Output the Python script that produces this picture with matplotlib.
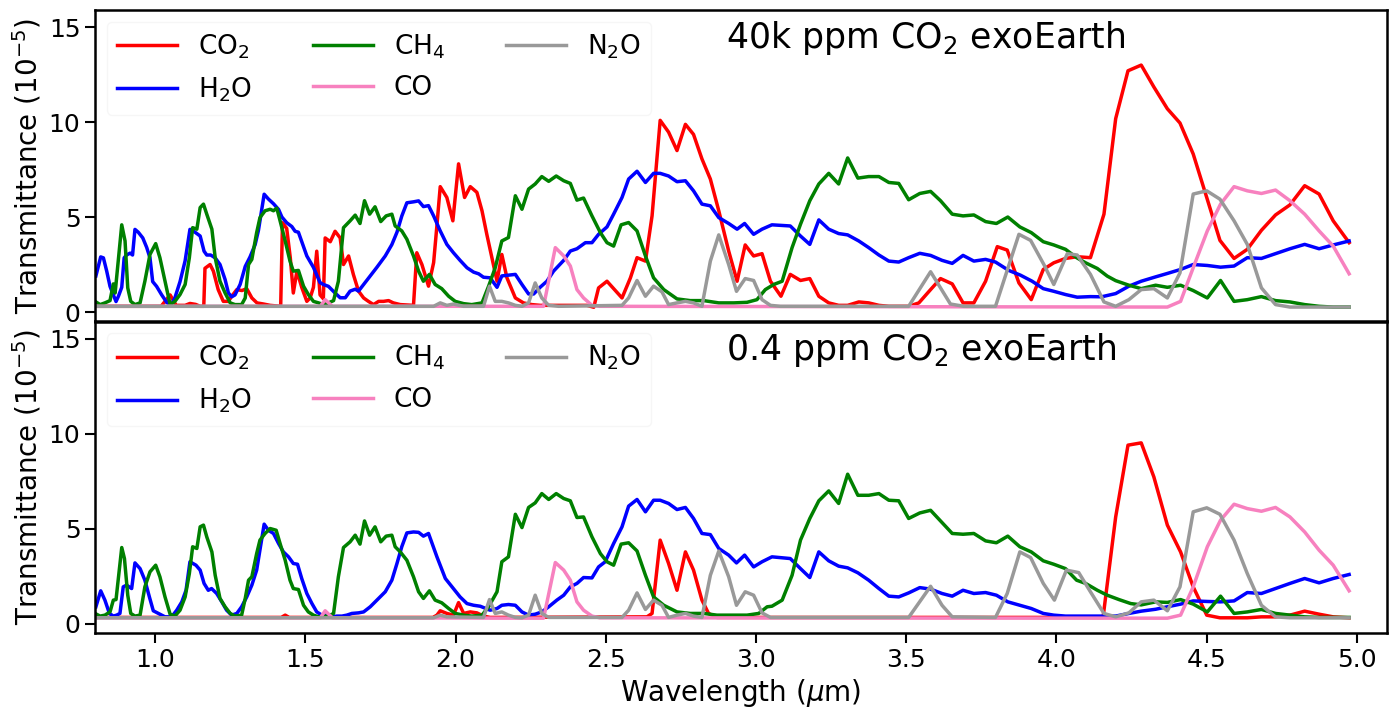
import matplotlib
matplotlib.use("Agg")
import matplotlib.pyplot as plt

# ---------------- data: top panel (40k ppm CO2) ----------------
top_co2_wl = [0.800, 1.020, 1.050, 1.070, 1.100, 1.116, 1.135, 1.150, 1.162, 1.166, 1.183, 1.194, 1.210, 1.227, 1.244,
              1.255, 1.272, 1.289, 1.305, 1.322, 1.339, 1.361, 1.383, 1.418, 1.424, 1.438, 1.450, 1.460, 1.472, 1.488,
              1.505, 1.516, 1.527, 1.538, 1.549, 1.560, 1.566, 1.583, 1.599, 1.616, 1.627, 1.644, 1.660, 1.677, 1.694,
              1.710, 1.727, 1.744, 1.760, 1.777, 1.793, 1.816, 1.860, 1.871, 1.888, 1.910, 1.927, 1.936, 1.949, 1.971,
              1.991, 2.010, 2.030, 2.049, 2.071, 2.088, 2.104, 2.121, 2.138, 2.154, 2.171, 2.199, 2.226, 2.254, 2.282,
              2.437, 2.460, 2.476, 2.504, 2.532, 2.554, 2.582, 2.604, 2.632, 2.654, 2.681, 2.709, 2.737, 2.765, 2.792,
              2.820, 2.848, 2.876, 2.909, 2.937, 2.964, 2.992, 3.020, 3.048, 3.083, 3.114, 3.148, 3.179, 3.209, 3.242,
              3.275, 3.305, 3.342, 3.375, 3.409, 3.442, 3.508, 3.542, 3.581, 3.614, 3.653, 3.689, 3.725, 3.764, 3.803,
              3.836, 3.875, 3.916, 3.956, 3.991, 4.030, 4.069, 4.113, 4.158, 4.197, 4.238, 4.282, 4.324, 4.369, 4.411,
              4.455, 4.500, 4.544, 4.591, 4.635, 4.682, 4.729, 4.777, 4.826, 4.874, 4.921, 4.974]
top_co2_val = [0.30, 0.30, 0.90, 0.35, 0.35, 0.45, 0.40, 0.30, 0.30, 2.30, 2.50, 2.15, 1.18, 0.56, 0.56,
               0.83, 1.18, 1.13, 1.23, 0.74, 0.48, 0.42, 0.35, 0.30, 4.70, 4.40, 2.85, 1.00, 2.15, 1.30,
               0.56, 0.74, 1.30, 3.20, 0.90, 0.70, 3.90, 3.70, 4.25, 3.90, 2.50, 2.95, 1.97, 1.10, 0.74,
               0.56, 0.39, 0.56, 0.56, 0.60, 0.48, 0.39, 0.35, 3.12, 2.50, 1.36, 2.60, 4.20, 6.60, 6.03,
               4.80, 7.80, 6.03, 6.60, 6.30, 5.33, 4.09, 2.86, 1.62, 3.03, 1.80, 0.74, 0.48, 0.39, 0.35,
               0.35, 0.25, 1.27, 1.62, 1.13, 0.74, 1.80, 2.86, 2.68, 5.06, 10.09, 9.47, 8.50, 9.88, 9.35,
               8.06, 7.00, 5.33, 3.21, 1.62, 3.53, 2.95, 3.07, 1.62, 0.83, 1.98, 1.66, 1.76, 0.83, 0.48,
               0.35, 0.35, 0.53, 0.48, 0.35, 0.30, 0.30, 0.48, 1.18, 1.76, 1.48, 0.48, 0.48, 1.62, 3.44,
               3.26, 1.53, 0.65, 2.24, 2.59, 2.82, 2.91, 2.86, 5.15, 10.18, 12.70, 13.00, 11.85, 10.70, 9.95,
               8.32, 6.03, 3.77, 2.82, 3.30, 4.30, 5.11, 5.64, 6.65, 6.21, 4.80, 3.65]

top_h2o_wl = [0.803, 0.819, 0.828, 0.839, 0.850, 0.861, 0.870, 0.878, 0.889, 0.897, 0.905, 0.917, 0.925, 0.933, 0.944,
              0.959, 0.972, 0.983, 0.992, 1.005, 1.022, 1.039, 1.053, 1.066, 1.083, 1.100, 1.116, 1.133, 1.150, 1.163,
              1.172, 1.185, 1.200, 1.216, 1.233, 1.244, 1.255, 1.266, 1.283, 1.300, 1.316, 1.333, 1.344, 1.363, 1.377,
              1.394, 1.411, 1.422, 1.438, 1.455, 1.466, 1.477, 1.505, 1.527, 1.549, 1.560, 1.577, 1.599, 1.616, 1.633,
              1.649, 1.666, 1.677, 1.694, 1.716, 1.738, 1.766, 1.788, 1.805, 1.821, 1.838, 1.860, 1.877, 1.893, 1.910,
              1.927, 1.949, 1.971, 1.993, 2.015, 2.038, 2.060, 2.077, 2.093, 2.115, 2.138, 2.154, 2.177, 2.199, 2.221,
              2.243, 2.260, 2.282, 2.304, 2.326, 2.360, 2.382, 2.404, 2.432, 2.454, 2.476, 2.504, 2.526, 2.554, 2.576,
              2.604, 2.632, 2.659, 2.681, 2.709, 2.737, 2.765, 2.792, 2.820, 2.848, 2.876, 2.909, 2.937, 2.962, 2.992,
              3.020, 3.053, 3.114, 3.148, 3.179, 3.209, 3.242, 3.275, 3.305, 3.342, 3.375, 3.409, 3.442, 3.475, 3.508,
              3.545, 3.581, 3.619, 3.653, 3.689, 3.725, 3.764, 3.797, 3.841, 3.880, 3.919, 3.956, 3.991, 4.030, 4.069,
              4.113, 4.150, 4.197, 4.241, 4.282, 4.330, 4.369, 4.413, 4.455, 4.502, 4.546, 4.591, 4.635, 4.682, 4.729,
              4.777, 4.826, 4.874, 4.921, 4.974]
top_h2o_val = [1.90, 2.90, 2.85, 2.15, 1.35, 0.90, 0.55, 0.83, 1.30, 2.85, 3.00, 3.10, 3.00, 4.35, 4.20,
               3.90, 3.40, 2.85, 1.60, 1.35, 0.90, 0.50, 0.35, 0.75, 1.60, 2.70, 4.35, 4.20, 4.00, 3.20,
               3.00, 3.00, 2.85, 2.50, 1.71, 1.00, 0.80, 0.90, 1.45, 2.40, 2.90, 3.55, 4.30, 6.20, 5.95,
               5.70, 5.40, 5.00, 4.70, 4.50, 4.25, 4.20, 2.95, 2.35, 1.55, 1.45, 1.35, 1.00, 0.75, 0.75,
               1.10, 1.20, 1.10, 1.45, 1.90, 2.35, 2.95, 3.55, 4.20, 5.05, 5.75, 5.80, 5.85, 5.55, 5.60,
               5.06, 4.27, 3.56, 3.12, 2.72, 2.33, 2.10, 2.01, 1.83, 1.80, 1.30, 1.90, 1.94, 1.98, 1.45,
               0.95, 0.95, 1.31, 1.62, 2.15, 2.72, 3.21, 3.33, 3.65, 3.65, 4.09, 4.48, 5.15, 6.03, 7.00,
               7.41, 6.82, 7.30, 7.30, 7.16, 6.86, 6.91, 6.38, 5.68, 5.59, 4.97, 4.66, 4.36, 4.66, 4.09,
               4.36, 4.59, 4.53, 4.00, 3.56, 4.85, 4.36, 4.13, 4.06, 3.74, 3.39, 3.00, 2.68, 2.63, 2.86,
               3.09, 2.98, 2.72, 2.56, 2.98, 2.68, 2.77, 2.63, 2.19, 1.94, 1.62, 1.23, 1.09, 0.92, 0.78,
               0.81, 0.80, 0.97, 1.36, 1.62, 1.85, 2.03, 2.24, 2.50, 2.45, 2.36, 2.42, 2.86, 2.82, 3.07,
               3.33, 3.56, 3.33, 3.53, 3.74]

top_ch4_wl = [0.800, 0.817, 0.833, 0.850, 0.861, 0.867, 0.874, 0.889, 0.900, 0.909, 0.919, 0.933, 0.950, 0.966, 0.983,
              1.002, 1.016, 1.033, 1.050, 1.066, 1.083, 1.100, 1.114, 1.125, 1.139, 1.150, 1.161, 1.172, 1.189, 1.200,
              1.216, 1.233, 1.250, 1.266, 1.288, 1.300, 1.311, 1.322, 1.338, 1.349, 1.366, 1.383, 1.394, 1.405, 1.416,
              1.433, 1.449, 1.460, 1.477, 1.494, 1.510, 1.527, 1.544, 1.560, 1.577, 1.594, 1.610, 1.627, 1.649, 1.666,
              1.682, 1.697, 1.714, 1.732, 1.751, 1.769, 1.788, 1.799, 1.821, 1.838, 1.860, 1.877, 1.893, 1.913, 1.932,
              1.954, 1.977, 1.999, 2.027, 2.054, 2.088, 2.110, 2.132, 2.154, 2.176, 2.199, 2.221, 2.243, 2.265, 2.287,
              2.310, 2.335, 2.360, 2.382, 2.404, 2.426, 2.454, 2.482, 2.504, 2.526, 2.551, 2.576, 2.604, 2.632, 2.659,
              2.693, 2.737, 2.781, 2.826, 2.876, 2.926, 2.970, 3.003, 3.031, 3.059, 3.087, 3.120, 3.148, 3.179, 3.209,
              3.242, 3.275, 3.305, 3.339, 3.375, 3.409, 3.442, 3.475, 3.508, 3.545, 3.581, 3.614, 3.653, 3.689, 3.725,
              3.764, 3.800, 3.838, 3.878, 3.916, 3.956, 3.991, 4.030, 4.067, 4.097, 4.136, 4.169, 4.197, 4.241, 4.282,
              4.330, 4.369, 4.413, 4.455, 4.502, 4.546, 4.591, 4.635, 4.682, 4.729, 4.777, 4.826, 4.874, 4.921, 4.974]
top_ch4_val = [0.56, 0.39, 0.48, 0.60, 1.48, 1.00, 2.15, 4.59, 3.74, 1.27, 0.56, 0.39, 0.48, 1.62, 3.03,
               3.60, 2.86, 1.62, 0.39, 0.56, 0.92, 1.45, 2.86, 4.44, 4.36, 5.50, 5.68, 5.15, 4.36, 2.86,
               1.62, 1.00, 0.48, 0.39, 0.39, 0.74, 2.50, 2.77, 4.18, 4.97, 5.33, 5.41, 5.33, 5.47, 4.80,
               3.74, 2.68, 2.15, 2.19, 1.36, 0.92, 0.56, 0.48, 0.39, 0.48, 0.60, 1.62, 4.44, 4.80, 5.10,
               4.66, 5.86, 5.15, 5.54, 4.76, 5.06, 5.15, 4.53, 4.27, 3.83, 2.95, 2.15, 1.62, 1.98, 1.45,
               1.23, 0.83, 0.56, 0.44, 0.39, 0.48, 1.36, 2.33, 3.74, 3.92, 6.12, 5.41, 6.47, 6.74, 7.13,
               6.88, 7.16, 6.91, 6.77, 5.89, 6.00, 5.06, 4.18, 3.65, 3.47, 4.59, 4.71, 4.27, 2.95, 1.80,
               1.18, 0.69, 0.60, 0.60, 0.48, 0.48, 0.51, 0.65, 1.18, 1.45, 1.62, 3.39, 4.62, 5.86, 6.74,
               7.30, 6.74, 8.11, 7.05, 7.13, 7.13, 6.82, 6.77, 5.91, 6.24, 6.35, 5.86, 5.15, 5.06, 5.11,
               4.76, 4.66, 5.00, 4.48, 4.18, 3.70, 3.53, 3.30, 2.86, 2.59, 2.29, 1.89, 1.65, 1.41, 1.23,
               1.41, 1.30, 1.41, 1.13, 0.74, 1.66, 0.56, 0.65, 0.81, 0.60, 0.53, 0.39, 0.30, 0.26, 0.26]

top_co_wl = [0.800, 1.550, 1.566, 1.590, 2.293, 2.332, 2.360, 2.382, 2.404, 2.426, 2.454, 2.480, 4.369, 4.413,
             4.455, 4.502, 4.546, 4.591, 4.635, 4.682, 4.729, 4.777, 4.826, 4.874, 4.921, 4.974]
top_co_val = [0.30, 0.30, 0.65, 0.30, 0.30, 3.39, 2.95, 2.42, 1.18, 0.74, 0.35, 0.30, 0.26, 0.56,
              2.33, 4.27, 5.68, 6.60, 6.38, 6.24, 6.42, 5.86, 5.15, 4.27, 3.47, 2.01]

top_n2o_wl = [0.800, 1.927, 1.949, 1.971, 1.993, 2.027, 2.093, 2.113, 2.132, 2.154, 2.176, 2.199, 2.221, 2.243, 2.265,
              2.287, 2.310, 2.343, 2.554, 2.576, 2.604, 2.632, 2.659, 2.687, 2.709, 2.737, 2.765, 2.792, 2.820, 2.848,
              2.876, 2.909, 2.935, 2.964, 2.992, 3.020, 3.048, 3.081, 3.508, 3.581, 3.647, 3.692, 3.797, 3.875, 3.914,
              3.958, 3.991, 4.036, 4.069, 4.113, 4.158, 4.197, 4.241, 4.282, 4.324, 4.369, 4.411, 4.455, 4.500, 4.544,
              4.591, 4.635, 4.682, 4.729, 4.777, 4.974]
top_n2o_val = [0.30, 0.30, 0.48, 0.35, 0.42, 0.30, 0.30, 1.36, 0.56, 0.56, 0.48, 0.35, 0.30, 0.48, 1.53,
               0.74, 0.35, 0.30, 0.35, 0.74, 1.66, 0.83, 1.36, 1.06, 0.39, 0.48, 0.56, 0.48, 0.30, 2.68,
               4.06, 2.50, 1.09, 1.76, 1.66, 0.65, 0.35, 0.30, 0.30, 2.12, 0.42, 0.30, 0.30, 4.09, 3.77,
               2.50, 1.45, 3.07, 3.00, 1.98, 0.53, 0.30, 0.65, 1.18, 1.23, 0.74, 2.06, 6.21, 6.38, 5.94,
               4.80, 3.56, 1.27, 0.39, 0.26, 0.26]

# ---------------- data: bottom panel (0.4 ppm CO2) ----------------
bot_co2_wl = [0.800, 1.420, 1.433, 1.446, 1.925, 1.938, 1.949, 1.971, 1.993, 2.010, 2.027, 2.049, 2.071, 2.093, 2.115,
              2.637, 2.654, 2.681, 2.709, 2.737, 2.765, 2.792, 2.820, 2.842, 2.870, 4.155, 4.197, 4.238, 4.282, 4.324,
              4.369, 4.413, 4.455, 4.500, 4.544, 4.635, 4.682, 4.729, 4.777, 4.826, 4.874, 4.921, 4.974]
bot_co2_val = [0.32, 0.32, 0.44, 0.32, 0.32, 0.44, 0.67, 0.53, 0.44, 1.10, 0.53, 0.61, 0.56, 0.39, 0.32,
               0.35, 0.53, 4.39, 3.16, 1.75, 3.77, 2.81, 1.23, 0.53, 0.32, 0.32, 5.61, 9.39, 9.51, 7.72,
               5.18, 3.77, 1.93, 0.44, 0.30, 0.30, 0.35, 0.35, 0.44, 0.65, 0.49, 0.35, 0.30]

bot_h2o_wl = [0.803, 0.819, 0.833, 0.848, 0.861, 0.872, 0.883, 0.894, 0.905, 0.922, 0.933, 0.950, 0.966, 0.981, 0.994,
              1.011, 1.033, 1.055, 1.072, 1.089, 1.103, 1.116, 1.136, 1.150, 1.163, 1.177, 1.188, 1.205, 1.222, 1.238,
              1.255, 1.272, 1.288, 1.305, 1.322, 1.338, 1.363, 1.377, 1.394, 1.411, 1.427, 1.444, 1.460, 1.474, 1.488,
              1.505, 1.522, 1.538, 1.555, 1.572, 1.588, 1.605, 1.622, 1.638, 1.655, 1.677, 1.694, 1.716, 1.738, 1.766,
              1.788, 1.805, 1.821, 1.838, 1.860, 1.877, 1.893, 1.910, 1.938, 1.966, 1.993, 2.015, 2.038, 2.060, 2.082,
              2.115, 2.138, 2.154, 2.176, 2.199, 2.221, 2.243, 2.265, 2.287, 2.310, 2.337, 2.360, 2.382, 2.404, 2.426,
              2.454, 2.476, 2.498, 2.526, 2.554, 2.576, 2.604, 2.632, 2.659, 2.681, 2.709, 2.737, 2.765, 2.792, 2.820,
              2.848, 2.876, 2.909, 2.935, 2.962, 2.992, 3.020, 3.053, 3.114, 3.148, 3.179, 3.209, 3.242, 3.275, 3.305,
              3.339, 3.375, 3.409, 3.442, 3.475, 3.508, 3.545, 3.581, 3.619, 3.653, 3.689, 3.725, 3.764, 3.800, 3.838,
              3.878, 3.916, 3.956, 3.991, 4.030, 4.069, 4.113, 4.158, 4.197, 4.241, 4.282, 4.330, 4.369, 4.413, 4.455,
              4.502, 4.546, 4.591, 4.635, 4.682, 4.729, 4.777, 4.826, 4.874, 4.921, 4.974]
bot_h2o_val = [0.88, 1.72, 1.23, 0.53, 0.39, 0.44, 0.53, 1.93, 2.02, 1.84, 3.19, 2.89, 2.28, 1.40, 0.67,
               0.53, 0.35, 0.35, 0.70, 1.14, 1.75, 3.25, 3.07, 2.81, 2.11, 1.75, 1.84, 1.58, 1.14, 0.70,
               0.44, 0.53, 0.88, 1.40, 2.02, 2.81, 5.23, 4.91, 4.74, 4.21, 3.77, 3.51, 3.16, 3.12, 2.37,
               1.58, 1.05, 0.61, 0.44, 0.44, 0.35, 0.39, 0.39, 0.44, 0.53, 0.56, 0.61, 0.88, 1.23, 1.67,
               2.28, 3.16, 4.04, 4.77, 4.82, 4.80, 4.60, 4.74, 3.51, 2.37, 1.84, 1.40, 1.05, 0.96, 0.91,
               0.70, 0.79, 0.96, 1.00, 0.96, 0.61, 0.44, 0.49, 0.61, 0.88, 1.23, 1.49, 1.93, 2.11, 2.42,
               2.40, 2.98, 3.25, 4.21, 5.09, 6.18, 6.53, 5.88, 6.49, 6.49, 6.32, 6.00, 6.11, 5.53, 4.74,
               4.68, 3.95, 3.60, 3.19, 3.60, 2.98, 3.25, 3.51, 3.42, 2.89, 2.42, 3.77, 3.30, 3.02, 2.93,
               2.67, 2.28, 1.84, 1.44, 1.40, 1.61, 1.89, 1.81, 1.58, 1.44, 1.75, 1.58, 1.63, 1.49, 1.14,
               0.96, 0.79, 0.53, 0.44, 0.39, 0.39, 0.39, 0.39, 0.39, 0.53, 0.65, 0.75, 0.88, 1.02, 1.19,
               1.16, 1.14, 1.19, 1.63, 1.58, 1.84, 2.11, 2.37, 2.14, 2.37, 2.58]

bot_ch4_wl = [0.800, 0.817, 0.833, 0.850, 0.861, 0.870, 0.889, 0.898, 0.909, 0.919, 0.933, 0.950, 0.966, 0.983, 1.002,
              1.016, 1.033, 1.050, 1.066, 1.083, 1.100, 1.114, 1.125, 1.139, 1.150, 1.161, 1.172, 1.189, 1.200, 1.216,
              1.233, 1.250, 1.266, 1.288, 1.300, 1.311, 1.322, 1.338, 1.349, 1.366, 1.383, 1.403, 1.416, 1.433, 1.449,
              1.460, 1.477, 1.494, 1.510, 1.527, 1.544, 1.560, 1.577, 1.594, 1.610, 1.627, 1.649, 1.666, 1.682, 1.697,
              1.714, 1.732, 1.751, 1.769, 1.788, 1.799, 1.816, 1.838, 1.860, 1.877, 1.893, 1.913, 1.932, 1.954, 1.977,
              1.999, 2.027, 2.054, 2.088, 2.110, 2.138, 2.154, 2.176, 2.199, 2.221, 2.243, 2.265, 2.287, 2.310, 2.335,
              2.360, 2.382, 2.404, 2.426, 2.454, 2.482, 2.504, 2.526, 2.551, 2.576, 2.604, 2.632, 2.659, 2.693, 2.737,
              2.781, 2.826, 2.870, 2.926, 2.970, 3.009, 3.037, 3.053, 3.087, 3.120, 3.148, 3.179, 3.209, 3.242, 3.275,
              3.305, 3.339, 3.375, 3.409, 3.442, 3.475, 3.508, 3.545, 3.581, 3.614, 3.653, 3.689, 3.725, 3.764, 3.800,
              3.838, 3.878, 3.916, 3.956, 3.991, 4.030, 4.067, 4.097, 4.136, 4.169, 4.208, 4.247, 4.282, 4.330, 4.369,
              4.413, 4.455, 4.502, 4.546, 4.591, 4.635, 4.682, 4.729, 4.777, 4.826, 4.874, 4.974]
bot_ch4_val = [0.53, 0.39, 0.44, 0.61, 1.23, 1.26, 4.00, 3.42, 1.49, 0.53, 0.39, 0.44, 1.93, 2.72, 3.07,
               2.46, 1.40, 0.49, 0.39, 0.70, 1.40, 2.63, 4.04, 3.95, 5.09, 5.18, 4.56, 3.77, 2.54, 1.32,
               0.88, 0.53, 0.39, 0.44, 1.32, 2.28, 2.46, 3.68, 4.39, 4.74, 5.00, 4.91, 4.21, 3.33, 2.28,
               1.84, 1.79, 0.96, 0.61, 0.44, 0.35, 0.39, 0.39, 0.53, 2.46, 4.00, 4.30, 4.65, 4.18, 5.40,
               4.65, 5.09, 4.30, 4.60, 4.65, 4.04, 3.77, 3.33, 2.46, 1.67, 1.32, 1.72, 1.23, 1.09, 0.79,
               0.53, 0.44, 0.39, 0.44, 0.88, 1.67, 3.25, 3.51, 5.75, 5.05, 6.11, 6.35, 6.84, 6.53, 6.84,
               6.58, 6.46, 5.58, 5.61, 4.56, 3.68, 3.25, 3.07, 4.18, 4.25, 3.82, 2.54, 1.40, 0.96, 0.61,
               0.53, 0.53, 0.44, 0.44, 0.44, 0.53, 0.88, 0.91, 1.23, 2.54, 4.39, 5.53, 6.46, 6.98, 6.32,
               7.86, 6.75, 6.75, 6.84, 6.49, 6.46, 5.53, 5.82, 5.96, 5.40, 4.74, 4.70, 4.74, 4.35, 4.25,
               4.60, 4.04, 3.77, 3.30, 3.12, 2.89, 2.28, 2.11, 1.75, 1.49, 1.26, 1.05, 0.98, 1.14, 1.11,
               1.26, 1.02, 0.61, 1.44, 0.53, 0.61, 0.74, 0.53, 0.44, 0.35, 0.32, 0.32]

bot_co_wl = [0.800, 1.550, 1.566, 1.590, 2.293, 2.332, 2.360, 2.382, 2.404, 2.426, 2.454, 2.480, 4.369, 4.413,
             4.455, 4.502, 4.546, 4.591, 4.635, 4.682, 4.729, 4.777, 4.826, 4.874, 4.921, 4.974]
bot_co_val = [0.30, 0.30, 0.67, 0.30, 0.28, 3.21, 2.81, 2.28, 1.14, 0.70, 0.39, 0.30, 0.28, 0.44,
              1.93, 4.04, 5.44, 6.28, 6.05, 5.91, 6.11, 5.61, 4.82, 3.86, 3.07, 1.72]

bot_n2o_wl = [0.800, 1.927, 1.949, 1.971, 2.093, 2.113, 2.132, 2.154, 2.176, 2.199, 2.221, 2.243, 2.265, 2.287, 2.310,
              2.554, 2.576, 2.604, 2.632, 2.659, 2.687, 2.709, 2.737, 2.765, 2.792, 2.820, 2.848, 2.876, 2.909, 2.935,
              2.964, 2.992, 3.020, 3.048, 3.508, 3.581, 3.619, 3.653, 3.797, 3.836, 3.878, 3.914, 3.956, 3.993, 4.033,
              4.074, 4.113, 4.158, 4.197, 4.241, 4.282, 4.324, 4.369, 4.411, 4.455, 4.500, 4.544, 4.591, 4.635, 4.682,
              4.729, 4.777, 4.974]
bot_n2o_val = [0.30, 0.30, 0.44, 0.35, 0.32, 1.26, 0.53, 0.61, 0.44, 0.32, 0.30, 0.44, 1.49, 0.53, 0.32,
               0.32, 0.70, 1.61, 0.74, 1.23, 0.96, 0.32, 0.44, 0.53, 0.39, 0.32, 2.54, 3.81, 2.46, 0.96,
               1.67, 1.49, 0.56, 0.32, 0.32, 1.96, 0.96, 0.35, 0.32, 1.58, 3.77, 3.47, 2.11, 1.23, 2.81,
               2.68, 1.67, 0.53, 0.35, 0.56, 1.14, 1.23, 0.67, 1.93, 5.88, 6.09, 5.75, 4.39, 2.63, 0.96,
               0.35, 0.30, 0.30]

panel_titles = ["40k ppm CO$_2$ exoEarth", "0.4 ppm CO$_2$ exoEarth"]
species_labels = ["CO$_2$", "H$_2$O", "CH$_4$", "CO", "N$_2$O"]
species_colors = ["#ff0000", "#0000ff", "#008000", "#f781bf", "#999999"]
yticks = [0, 5, 10, 15]
xticks = [1.0, 1.5, 2.0, 2.5, 3.0, 3.5, 4.0, 4.5, 5.0]

panels = [
    [(top_co2_wl, top_co2_val), (top_h2o_wl, top_h2o_val), (top_ch4_wl, top_ch4_val),
     (top_co_wl, top_co_val), (top_n2o_wl, top_n2o_val)],
    [(bot_co2_wl, bot_co2_val), (bot_h2o_wl, bot_h2o_val), (bot_ch4_wl, bot_ch4_val),
     (bot_co_wl, bot_co_val), (bot_n2o_wl, bot_n2o_val)],
]

plt.rcParams['font.family'] = ['DejaVu Sans']
fig, axes = plt.subplots(2, 1, figsize=(13.98, 7.08), dpi=100, sharex=True)
fig.subplots_adjust(left=95 / 1398, right=1387 / 1398, top=1 - 10 / 708, bottom=1 - 633 / 708, hspace=0)

for ax, series, title in zip(axes, panels, panel_titles):
    for (wl, val), lab, col in zip(series, species_labels, species_colors):
        ax.plot(wl, val, color=col, lw=2.5, label=lab)
    ax.set_xlim(0.8, 5.1)
    ax.set_ylim(-0.5, 15.9)
    ax.set_yticks(yticks)
    ax.set_xticks(xticks)
    ax.tick_params(labelsize=18, width=1.5, length=7, direction='out')
    for sp in ax.spines.values():
        sp.set_linewidth(1.8)
    ax.set_ylabel("Transmittance (10$^{-5}$)", fontsize=20, labelpad=4)
    ax.text(2.9, 14.4, title, fontsize=25, ha='left', va='center')
    leg = ax.legend(loc='upper left', ncol=3, fontsize=19, handlelength=2.27,
                    handletextpad=0.8, labelspacing=0.55,
                    framealpha=0.5, borderaxespad=0.45, columnspacing=2.3)
    leg.get_frame().set_edgecolor('#eeeeee')

axes[0].tick_params(labelbottom=False)
axes[1].set_xlabel("Wavelength ($\\mu$m)", fontsize=20)

fig.savefig("out.png", dpi=100)
